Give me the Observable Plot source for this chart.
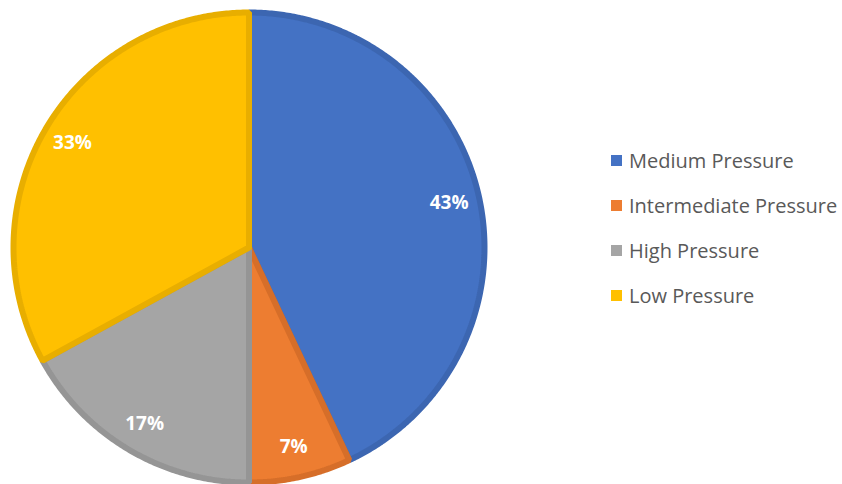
<!DOCTYPE html>
<html>
<head>
<meta charset="utf-8">
<script src="https://cdn.jsdelivr.net/npm/d3@7"></script>
<script src="https://cdn.jsdelivr.net/npm/@observablehq/plot@0.6"></script>
<style>
  html, body { margin: 0; padding: 0; background: #fff; }
  #wrap { position: relative; width: 842px; height: 484px; overflow: hidden; }
  #legend { position: absolute; left: 611px; top: 138px; font-family: "Open Sans", sans-serif; font-size: 20px; color: #595959; }
  .item { display: flex; align-items: center; height: 45px; }
  .sw { width: 11px; height: 11px; margin-right: 7px; }
</style>
</head>
<body>
<div id="wrap"></div>
<script>
const categories = ["Medium Pressure", "Intermediate Pressure", "High Pressure", "Low Pressure"];
const values = [43, 7, 17, 33];
const fills = ["#4472C4", "#ED7D31", "#A5A5A5", "#FFC000"];
const borders = ["#3C66B1", "#D66E29", "#959595", "#E8AE00"];

const data = categories.map((c, i) => ({category: c, value: values[i], fill: fills[i], border: borders[i]}));
const pie = d3.pie().value(d => d.value).sort(null)(data);

const rOuter = 1 - 3 / 238;
const pts = [];
pie.forEach(p => {
  const c = p.data.category;
  pts.push({category: c, x: 0, y: 0});
  const n = Math.max(4, Math.ceil((p.endAngle - p.startAngle) / (Math.PI / 360)));
  for (let k = 0; k <= n; k++) {
    const a = p.startAngle + (p.endAngle - p.startAngle) * k / n;
    pts.push({category: c, x: rOuter * Math.sin(a), y: rOuter * Math.cos(a)});
  }
  pts.push({category: c, x: 0, y: 0});
});

const labels = pie.map(p => {
  const a = (p.startAngle + p.endAngle) / 2;
  const r = 0.86;
  return {text: p.data.value + "%", x: r * Math.sin(a), y: r * Math.cos(a)};
});

const chart = Plot.plot({
  width: 842,
  height: 484,
  margin: 0,
  x: {domain: [-1, 1], range: [10, 487], axis: null},
  y: {domain: [-1, 1], range: [485, 9], axis: null},
  color: {domain: categories, range: fills},
  marks: [
    Plot.line(pts, {
      x: "x", y: "y", z: "category",
      fill: "category",
      stroke: d => borders[categories.indexOf(d.category)],
      strokeWidth: 6,
      strokeLinejoin: "miter",
      curve: "linear"
    }),
    Plot.text(labels, {
      x: "x", y: "y", text: "text",
      fill: "white", fontSize: 19, fontWeight: "bold",
      fontFamily: "Open Sans, sans-serif"
    })
  ],
  style: {background: "white"}
});

const wrap = document.getElementById("wrap");
wrap.appendChild(chart);

const legend = document.createElement("div");
legend.id = "legend";
categories.forEach((c, i) => {
  const it = document.createElement("div");
  it.className = "item";
  const sw = document.createElement("div");
  sw.className = "sw";
  sw.style.background = fills[i];
  const t = document.createElement("span");
  t.textContent = c;
  it.appendChild(sw);
  it.appendChild(t);
  legend.appendChild(it);
});
wrap.appendChild(legend);
</script>
</body>
</html>
